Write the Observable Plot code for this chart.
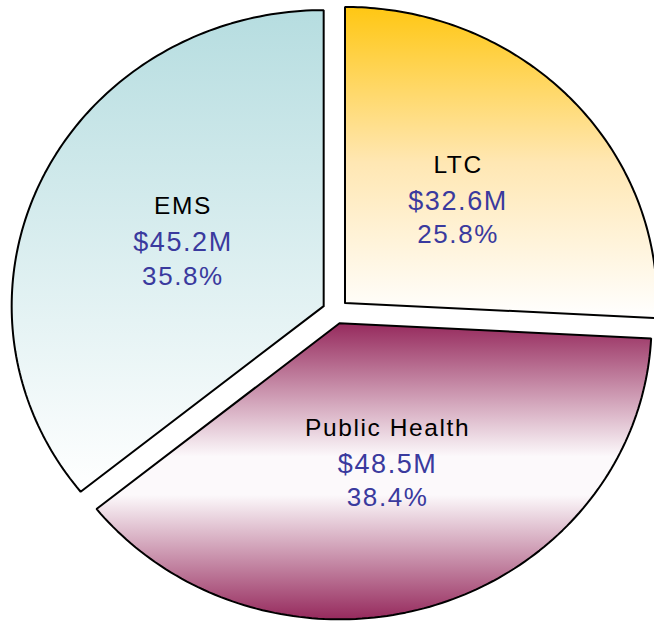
<!DOCTYPE html>
<html>
<head>
<meta charset="utf-8">
<script src="https://cdn.jsdelivr.net/npm/d3@7"></script>
<script src="https://cdn.jsdelivr.net/npm/@observablehq/plot@0.6"></script>
<style>
  html, body { margin: 0; padding: 0; background: #fff; }
  svg { display: block; }
</style>
</head>
<body>
<div id="chart"></div>
<script>
// Data (clockwise from 12 o'clock)
const categories = ["LTC", "Public Health", "EMS"];
const amounts = [32.6, 48.5, 45.2];          // $M
const amountLabels = ["$32.6M", "$48.5M", "$45.2M"];
const percentLabels = ["25.8%", "38.4%", "35.8%"];
const gradientIds = ["gLTC", "gPH", "gEMS"];

const explode = 0.042;   // explosion offset (fraction of radius)
const labelRadius = 0.5; // label distance from slice apex

const total = d3.sum(amounts);
const slices = [];
let acc = 0;
amounts.forEach((v, i) => {
  const a0 = acc / total * 2 * Math.PI;
  acc += v;
  const a1 = acc / total * 2 * Math.PI;
  const mid = (a0 + a1) / 2;
  slices.push({cat: categories[i], a0, a1, mid, ox: explode * Math.sin(mid), oy: explode * Math.cos(mid), i});
});

// polygon outline points per slice (apex + arc + apex)
const outline = slices.map(s => {
  const pts = [{x: s.ox, y: s.oy}];
  const n = 120;
  for (let k = 0; k <= n; k++) {
    const a = s.a0 + (s.a1 - s.a0) * k / n;
    pts.push({x: s.ox + Math.sin(a), y: s.oy + Math.cos(a)});
  }
  pts.push({x: s.ox, y: s.oy});
  return pts;
});

const labelRows = slices.map(s => ({
  x: s.ox + labelRadius * Math.sin(s.mid),
  y: s.oy + labelRadius * Math.cos(s.mid),
  name: s.cat, amount: amountLabels[s.i], pct: percentLabels[s.i]
}));

const font = "Liberation Sans, Arial, sans-serif";
const blue = "#3a3a9e";

const marks = outline.map((pts, i) => Plot.line(pts, {
  x: "x", y: "y", fill: `url(#${gradientIds[i]})`, stroke: "#000", strokeWidth: 2, strokeLinejoin: "miter"
}));

marks.push(
  Plot.text(labelRows, {x: "x", y: "y", text: "name", dy: -36, fontSize: 24.5, fill: "#000", fontFamily: font}),
  Plot.text(labelRows, {x: "x", y: "y", text: "amount", dy: 0, fontSize: 27, fill: blue, fontFamily: font}),
  Plot.text(labelRows, {x: "x", y: "y", text: "pct", dy: 34, fontSize: 26, fill: blue, fontFamily: font})
);

const svg = Plot.plot({
  width: 654,
  height: 621,
  margin: 0,
  x: {domain: [-1, 1], range: [23, 647], axis: null},
  y: {domain: [-1, 1], range: [607, 15], axis: null},
  style: {background: "#fff", overflow: "hidden"},
  marks
});

// gradients
const defs = d3.select(svg).insert("defs", ":first-child");
function grad(id, stops) {
  const g = defs.append("linearGradient").attr("id", id)
    .attr("x1", 0).attr("y1", 0).attr("x2", 0).attr("y2", 1);
  stops.forEach(([o, c]) => g.append("stop").attr("offset", o).attr("stop-color", c));
}
grad("gLTC", [[0, "#ffc713"], [0.5, "#ffe7b3"], [1, "#ffffff"]]);
grad("gPH", [[0, "#962a5d"], [0.45, "#fcf9fb"], [0.58, "#fcf9fb"], [1, "#962a5d"]]);
grad("gEMS", [[0, "#b6dde0"], [1, "#ffffff"]]);

d3.select(svg).selectAll("text").attr("letter-spacing", "1.6px");

document.getElementById("chart").appendChild(svg);
</script>
</body>
</html>
